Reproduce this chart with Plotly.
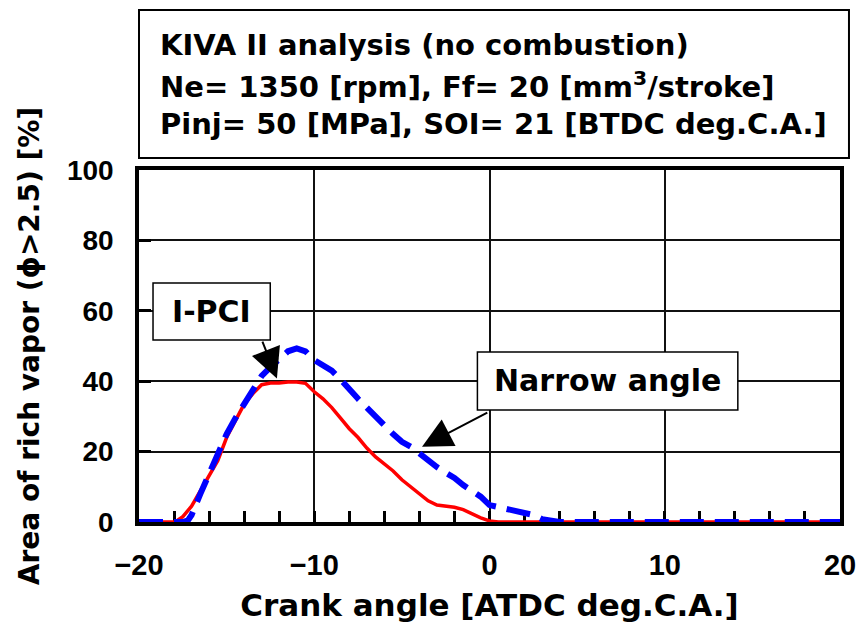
import plotly.graph_objects as go

# Crank angle [ATDC deg.C.A.] and area of rich vapor [%]
ipci_x = [-20, -18, -17.8, -17.5, -17, -16.5, -16, -15.5, -15, -14.5, -14, -13.5, -13, -12.5, -12, -11.5,
          -11, -10.5, -10, -9.5, -9, -8.5, -8, -7.5, -7, -6.5, -6, -5.5, -5, -4.5, -4, -3.5, -3, -2.5,
          -2, -1.5, -1, -0.5, 0, 0.5, 20]
ipci_y = [0, 0, 0.5, 1.5, 4.5, 9, 13, 17.5, 24, 28.5, 33.5, 36.5, 39, 39.5, 39.5, 39.8,
          39.8, 39.4, 37, 35, 32.5, 29.5, 26.5, 24, 21, 18.5, 16.5, 14.5, 12, 10, 8, 6, 4.8, 4.5,
          4.2, 3.5, 2.3, 1.2, 0.3, 0, 0]

narrow_x = [-20, -17.5, -17.2, -17, -16.5, -16, -15.5, -15, -14.5, -14, -13.5, -13, -12.5, -12, -11.5,
            -11, -10.5, -10, -9.5, -9, -8.5, -8, -7.5, -7, -6.5, -6, -5.5, -5, -4.5, -4, -3.5, -3,
            -2.5, -2, -1.5, -1, -0.5, 0, 0.5, 1, 1.5, 2, 2.5, 3, 3.5, 4, 20]
narrow_y = [0, 0, 0.5, 2, 8, 14, 19.5, 25, 29.5, 33.5, 38, 41.5, 44, 46.5, 48.5,
            49.3, 48.5, 46, 44.5, 43, 40.5, 37.5, 35, 32.5, 29.8, 27.5, 25, 22.8, 21.4, 19.5, 17.3, 15.6,
            14, 12.5, 10.5, 9, 7.2, 4.8, 4.2, 3.6, 3.1, 2.6, 2, 0.8, 0.3, 0, 0]

title_lines = ["KIVA II analysis (no combustion)",
               "Ne= 1350 [rpm], Ff= 20 [mm<sup>3</sup>/stroke]",
               "Pinj= 50 [MPa], SOI= 21 [BTDC deg.C.A.]"]
x_title = "Crank angle [ATDC deg.C.A.]"
y_title = "Area of rich vapor (\u03d5>2.5) [%]"

WIDE = "DejaVu Sans, Verdana, sans-serif"
TICKF = "Liberation Sans, Arial, sans-serif"

fig = go.Figure()
fig.add_trace(go.Scatter(x=ipci_x, y=ipci_y, mode="lines", name="I-PCI",
                         line=dict(color="#ff0000", width=3.5), cliponaxis=False))
fig.add_trace(go.Scatter(x=narrow_x, y=narrow_y, mode="lines", name="Narrow angle",
                         line=dict(color="#0000ff", width=6, dash="24px,11px"), cliponaxis=False))

shapes = [
    dict(type="rect", xref="paper", yref="paper", x0=0.0, x1=1.0128, y0=1.034, y1=1.4545,
         line=dict(color="black", width=2), fillcolor="white", layer="above"),
    dict(type="rect", xref="x", yref="y", x0=-19.2, x1=-12.51, y0=51.7, y1=67.9,
         line=dict(color="black", width=1.5), fillcolor="white", layer="above"),
    dict(type="rect", xref="x", yref="y", x0=-0.69, x1=14.17, y0=31.8, y1=48.3,
         line=dict(color="black", width=1.5), fillcolor="white", layer="above"),
]

annotations = []
for t, py in zip(title_lines, [45, 85, 124]):
    annotations.append(dict(xref="paper", yref="paper", x=(158 - 139) / 701, y=(522 - py) / 352,
                            xanchor="left", yanchor="middle", text=t, showarrow=False,
                            font=dict(family=WIDE, size=29, color="black", weight="bold")))
annotations += [
    dict(xref="x", yref="y", x=-15.86, y=59.8, text="I-PCI", showarrow=False,
         font=dict(family=WIDE, size=30, color="black", weight="bold")),
    dict(xref="x", yref="y", x=6.74, y=40.06, text="Narrow angle", showarrow=False,
         font=dict(family=WIDE, size=30, color="black", weight="bold")),
    dict(xref="x", yref="y", axref="x", ayref="y", x=-12.13, y=40.8, ax=-12.99, ay=51.7,
         text="", showarrow=True, arrowhead=2, arrowsize=3, arrowwidth=2, arrowcolor="black"),
    dict(xref="x", yref="y", axref="x", ayref="y", x=-3.85, y=21.4, ax=-0.04, ay=31.3,
         text="", showarrow=True, arrowhead=2, arrowsize=3, arrowwidth=2, arrowcolor="black"),
]

fig.update_layout(
    width=862, height=624,
    margin=dict(l=139, r=22, t=170, b=102),
    paper_bgcolor="white", plot_bgcolor="white",
    showlegend=False,
    shapes=shapes, annotations=annotations,
    font=dict(family=TICKF, color="black"),
)
fig.update_xaxes(range=[-20, 20], tickmode="linear", tick0=-20, dtick=10,
                 showgrid=True, gridcolor="#111111", gridwidth=1.5,
                 showline=True, linecolor="black", linewidth=3.5, mirror=True,
                 ticks="inside", ticklen=11, tickwidth=2.5, tickcolor="black",
                 minor=dict(tickmode="linear", tick0=-20, dtick=2, ticks="inside", ticklen=11,
                            tickwidth=2.5, tickcolor="black", showgrid=False),
                 ticklabelstandoff=14, automargin=False,
                 tickfont=dict(family=TICKF, size=29, color="black", weight="bold"),
                 title=dict(text=x_title, standoff=16,
                            font=dict(family=WIDE, size=31, color="black", weight="bold")),
                 zeroline=False, layer="below traces")
fig.update_yaxes(range=[0, 100], tickmode="linear", tick0=0, dtick=20,
                 showgrid=True, gridcolor="#111111", gridwidth=1.5,
                 showline=True, linecolor="black", linewidth=3.5, mirror=True,
                 ticks="inside", ticklen=12, tickwidth=3, tickcolor="black",
                 ticklabelstandoff=16, automargin=False,
                 tickfont=dict(family=TICKF, size=28, color="black", weight="bold"),
                 title=dict(text=y_title, standoff=20,
                            font=dict(family=WIDE, size=28, color="black", weight="bold")),
                 zeroline=False, layer="below traces")

fig.write_html("out.html")
